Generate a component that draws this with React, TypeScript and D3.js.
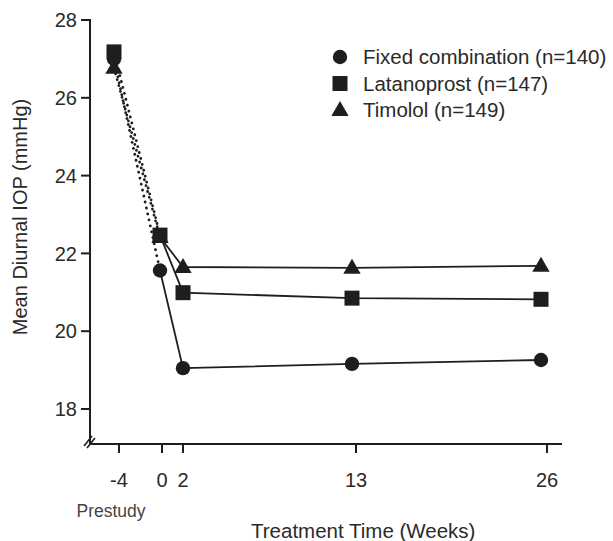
import React from "react";
import * as d3 from "d3";

const weeks = [-4, 0, 2, 13, 26];
const fixedCombination = [27.0, 21.56, 19.05, 19.16, 19.26];
const latanoprost = [27.18, 22.47, 20.99, 20.85, 20.82];
const timolol = [26.77, 22.42, 21.65, 21.63, 21.68];
const seriesNames = ["Fixed combination (n=140)", "Latanoprost (n=147)", "Timolol (n=149)"];
const seriesShapes = ["circle", "square", "triangle"];
const yTicks = [18, 20, 22, 24, 26, 28];
const xTicks = [-4, 0, 2, 13, 26];

const W = 613, H = 541;
const FONT = "'Liberation Sans', Arial, sans-serif";
const INK = "#1e1e1e";
const TXT = "#2a2a2a";

export default function App() {
  // the original x axis is piecewise (not linear), so use a polylinear scale
  const x = d3.scaleLinear().domain(weeks).range([114, 160, 183, 352, 541]);
  const xTick = d3.scaleLinear().domain(xTicks).range([119, 162, 183, 356, 547]);
  const y = d3.scaleLinear().domain([18, 28]).range([409, 20]);
  const axisX = 90, axisBottom = 444, axisRight = 562;

  const series = [fixedCombination, latanoprost, timolol];

  const marker = (shape: string, cx: number, cy: number, key: string) => {
    if (shape === "circle") return <circle key={key} cx={cx} cy={cy} r={7.2} fill={INK} />;
    if (shape === "square") return <rect key={key} x={cx - 7.5} y={cy - 7.5} width={15} height={15} fill={INK} />;
    const tri = d3.symbol().type(d3.symbolTriangle).size(130)();
    return <path key={key} d={tri as string} transform={`translate(${cx},${cy + 1})`} fill={INK} />;
  };

  const solid = d3.line<number>().x((_, i) => x(weeks[i + 1])).y((d) => y(d));

  return (
    <svg width={W} height={H} style={{ position: "absolute", left: 0, top: 0, background: "#fff" }} fontFamily={FONT}>
      {/* axes */}
      <line x1={axisX} y1={19} x2={axisX} y2={axisBottom} stroke={INK} strokeWidth={2} />
      <line x1={axisX} y1={axisBottom} x2={axisRight} y2={axisBottom} stroke={INK} strokeWidth={2} />
      {/* axis break */}
      <line x1={84} y1={446} x2={92} y2={436} stroke={INK} strokeWidth={1.6} />
      <line x1={87} y1={448} x2={95} y2={438} stroke={INK} strokeWidth={1.6} />
      {yTicks.map((t) => (
        <g key={"y" + t}>
          <line x1={axisX - 9} x2={axisX} y1={y(t)} y2={y(t)} stroke={INK} strokeWidth={2} />
          <text x={axisX - 13} y={y(t)} dy="0.36em" textAnchor="end" fontSize={20} fill={TXT}>{t}</text>
        </g>
      ))}
      {xTicks.map((t) => (
        <g key={"x" + t}>
          <line x1={xTick(t)} x2={xTick(t)} y1={axisBottom} y2={axisBottom + 9} stroke={INK} strokeWidth={2} />
          <text x={xTick(t)} y={487} textAnchor="middle" fontSize={20} fill={TXT}>{t}</text>
        </g>
      ))}
      <text x={111} y={517} textAnchor="middle" fontSize={17.5} fill="#444">Prestudy</text>
      <text x={251} y={538} textAnchor="start" fontSize={20.5} fill={TXT}>Treatment Time (Weeks)</text>
      <text transform={`translate(27,217) rotate(-90)`} textAnchor="middle" fontSize={20} fill={TXT}>Mean Diurnal IOP (mmHg)</text>

      {/* dotted prestudy segments */}
      {series.map((s, k) => (
        <line key={"dot" + k} x1={x(weeks[0])} y1={y(s[0])} x2={x(weeks[1])} y2={y(s[1])}
          stroke={INK} strokeWidth={2.8} strokeDasharray="0.1 6" strokeLinecap="round" />
      ))}
      {/* solid treatment lines */}
      {series.map((s, k) => (
        <path key={"ln" + k} d={solid(s.slice(1)) as string} fill="none" stroke={INK} strokeWidth={1.8} />
      ))}
      {/* markers */}
      {[2, 1, 0].map((k) =>
        series[k].map((v, i) => marker(seriesShapes[k], x(weeks[i]), y(v), `m${k}-${i}`))
      )}

      {/* legend */}
      {seriesNames.map((n, k) => {
        const ly = 57 + k * 26.5;
        return (
          <g key={"lg" + k}>
            {marker(seriesShapes[k], 340, ly, "lm" + k)}
            <text x={363} y={ly} dy="0.36em" fontSize={20.5} fill={TXT}>{n}</text>
          </g>
        );
      })}
    </svg>
  );
}
